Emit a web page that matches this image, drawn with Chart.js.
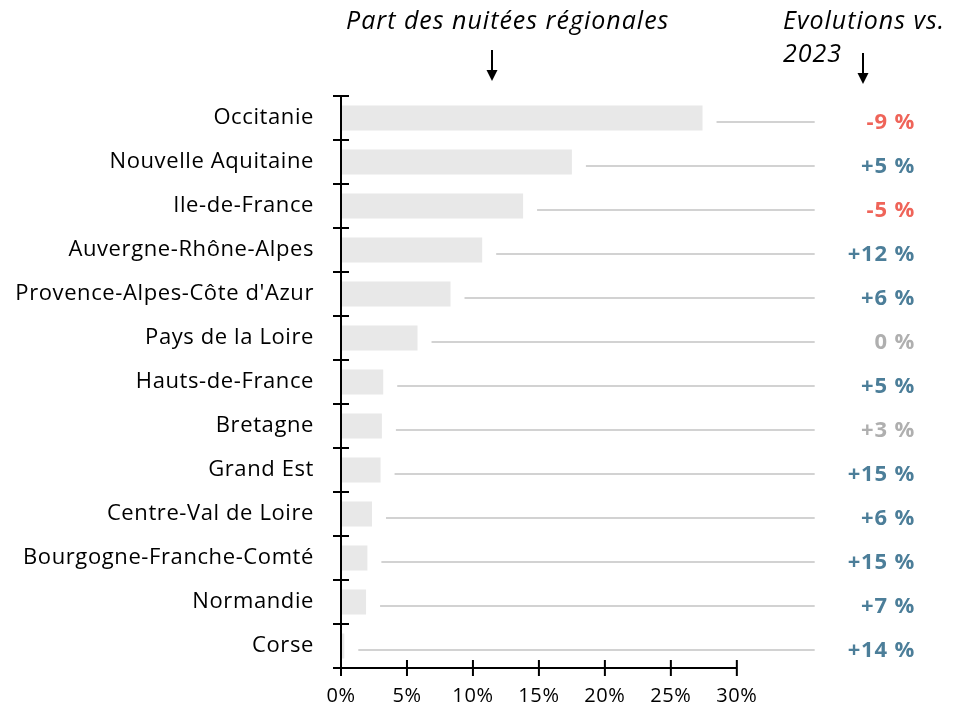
<!DOCTYPE html>
<html>
<head>
<meta charset="utf-8">
<script src="https://cdn.jsdelivr.net/npm/chart.js@4.4.1/dist/chart.umd.min.js"></script>
<style>
    html, body { margin: 0; padding: 0; background: #fff; }
    #wrap { width: 954px; height: 713px; position: relative; }
</style>
</head>
<body>
<div id="wrap"><canvas id="chart"></canvas></div>
<script>
// ====
// Data
// ====
const regions = [
    'Occitanie', 'Nouvelle Aquitaine', 'Ile-de-France', 'Auvergne-Rhône-Alpes',
    "Provence-Alpes-Côte d'Azur", 'Pays de la Loire', 'Hauts-de-France', 'Bretagne',
    'Grand Est', 'Centre-Val de Loire', 'Bourgogne-Franche-Comté', 'Normandie', 'Corse'
];
const shares = [27.4, 17.5, 13.8, 10.7, 8.3, 5.8, 3.2, 3.1, 3.0, 2.35, 2.0, 1.9, 0.25];
const evolutions = [-9, 5, -5, 12, 6, 0, 5, 3, 15, 6, 15, 7, 14];
const xTicks = [0, 5, 10, 15, 20, 25, 30];

const LINE_END = 35.9;
const FONT = '"Open Sans", Lato, sans-serif';

function evoColor(v) {
    if (v < 0) return '#ef6459';
    if (v <= 3) return '#afafaf';
    return '#4c7e99';
}

function evoText(v) {
    return (v > 0 ? '+' : '') + v + ' %';
}

function drawArrow(ctx, x, y1, y2) {
    ctx.save();
    ctx.strokeStyle = '#000';
    ctx.fillStyle = '#000';
    ctx.lineWidth = 2;
    ctx.beginPath();
    ctx.moveTo(x, y1);
    ctx.lineTo(x, y2 - 9);
    ctx.stroke();
    ctx.beginPath();
    ctx.moveTo(x - 5.5, y2 - 11);
    ctx.lineTo(x + 5.5, y2 - 11);
    ctx.lineTo(x, y2);
    ctx.closePath();
    ctx.fill();
    ctx.restore();
}

// Leader lines, right labels, axes and headers
const decorPlugin = {
    id: 'decor',
    beforeDraw(chart) {
        // the original font is wide, widen the tick labels a bit
        chart.ctx.letterSpacing = '0.6px';
    },
    beforeDatasetsDraw(chart) {
        chart.ctx.letterSpacing = '0px';
    },
    afterDatasetsDraw(chart) {
        const ctx = chart.ctx;
        const x = chart.scales.x;
        const y = chart.scales.y;
        const step = Math.abs(y.getPixelForValue(1) - y.getPixelForValue(0));

        // leader lines + evolution labels
        ctx.save();
        shares.forEach((v, i) => {
            const cy = y.getPixelForValue(i) + 4;
            ctx.strokeStyle = '#d2d2d2';
            ctx.lineWidth = 2;
            ctx.beginPath();
            ctx.moveTo(x.getPixelForValue(v) + 14, cy);
            ctx.lineTo(x.getPixelForValue(LINE_END), cy);
            ctx.stroke();

            ctx.font = 'bold 22px ' + FONT;
            ctx.letterSpacing = '0.8px';
            ctx.fillStyle = evoColor(evolutions[i]);
            ctx.textAlign = 'right';
            ctx.textBaseline = 'middle';
            ctx.fillText(evoText(evolutions[i]), 915, cy + 1);
        });
        ctx.restore();

        // axes
        ctx.save();
        ctx.strokeStyle = '#000';
        ctx.lineWidth = 2;
        const x0 = x.getPixelForValue(0);
        const top = y.getPixelForValue(0) - step / 2;
        const bottom = y.getPixelForValue(regions.length - 1) + step / 2;
        ctx.beginPath();
        ctx.moveTo(x0, top);
        ctx.lineTo(x0, bottom);
        ctx.moveTo(x0, bottom);
        ctx.lineTo(x.getPixelForValue(xTicks[xTicks.length - 1]), bottom);
        for (let i = 0; i <= regions.length; i++) {
            const ty = top + i * step;
            ctx.moveTo(x0 - 8, ty);
            ctx.lineTo(x0 + 8, ty);
        }
        xTicks.forEach(t => {
            const tx = x.getPixelForValue(t);
            ctx.moveTo(tx, bottom - 8);
            ctx.lineTo(tx, bottom + 8);
        });
        ctx.stroke();
        ctx.restore();

        // headers
        ctx.save();
        ctx.fillStyle = '#000';
        ctx.font = 'italic 25px ' + FONT;
        ctx.letterSpacing = '1px';
        ctx.textBaseline = 'middle';
        ctx.textAlign = 'left';
        ctx.fillText('Part des nuitées régionales', 346, 22);
        ctx.fillText('Evolutions vs.', 783, 22);
        ctx.fillText('2023', 783, 55);
        ctx.restore();

        drawArrow(ctx, 492, 50, 81);
        drawArrow(ctx, 863, 53, 84);
    }
};

const ctx = document.getElementById('chart').getContext('2d');
new Chart(ctx, {
    type: 'bar',
    data: {
        labels: regions,
        datasets: [{
            data: shares,
            backgroundColor: '#e8e8e8',
            borderWidth: 0,
            categoryPercentage: 1,
            barPercentage: 0.57
        }]
    },
    options: {
        indexAxis: 'y',
        responsive: true,
        maintainAspectRatio: false,
        animation: false,
        layout: {
            padding: { top: 96, right: 138, left: 0, bottom: 0 }
        },
        plugins: {
            legend: { display: false },
            tooltip: { enabled: false }
        },
        scales: {
            x: {
                min: 0,
                max: 36,
                grid: { display: false },
                border: { display: false },
                afterFit: scale => { scale.height = 45; },
                afterBuildTicks: scale => {
                    scale.ticks = xTicks.map(v => ({ value: v }));
                },
                ticks: {
                    padding: 8,
                    color: '#000',
                    font: { family: FONT, size: 20 },
                    callback: v => v + '%'
                }
            },
            y: {
                grid: { display: false },
                border: { display: false },
                afterFit: scale => { scale.width = 341; },
                ticks: {
                    padding: 19,
                    color: '#000',
                    font: { family: FONT, size: 22 }
                }
            }
        }
    },
    plugins: [decorPlugin]
});
</script>
</body>
</html>
